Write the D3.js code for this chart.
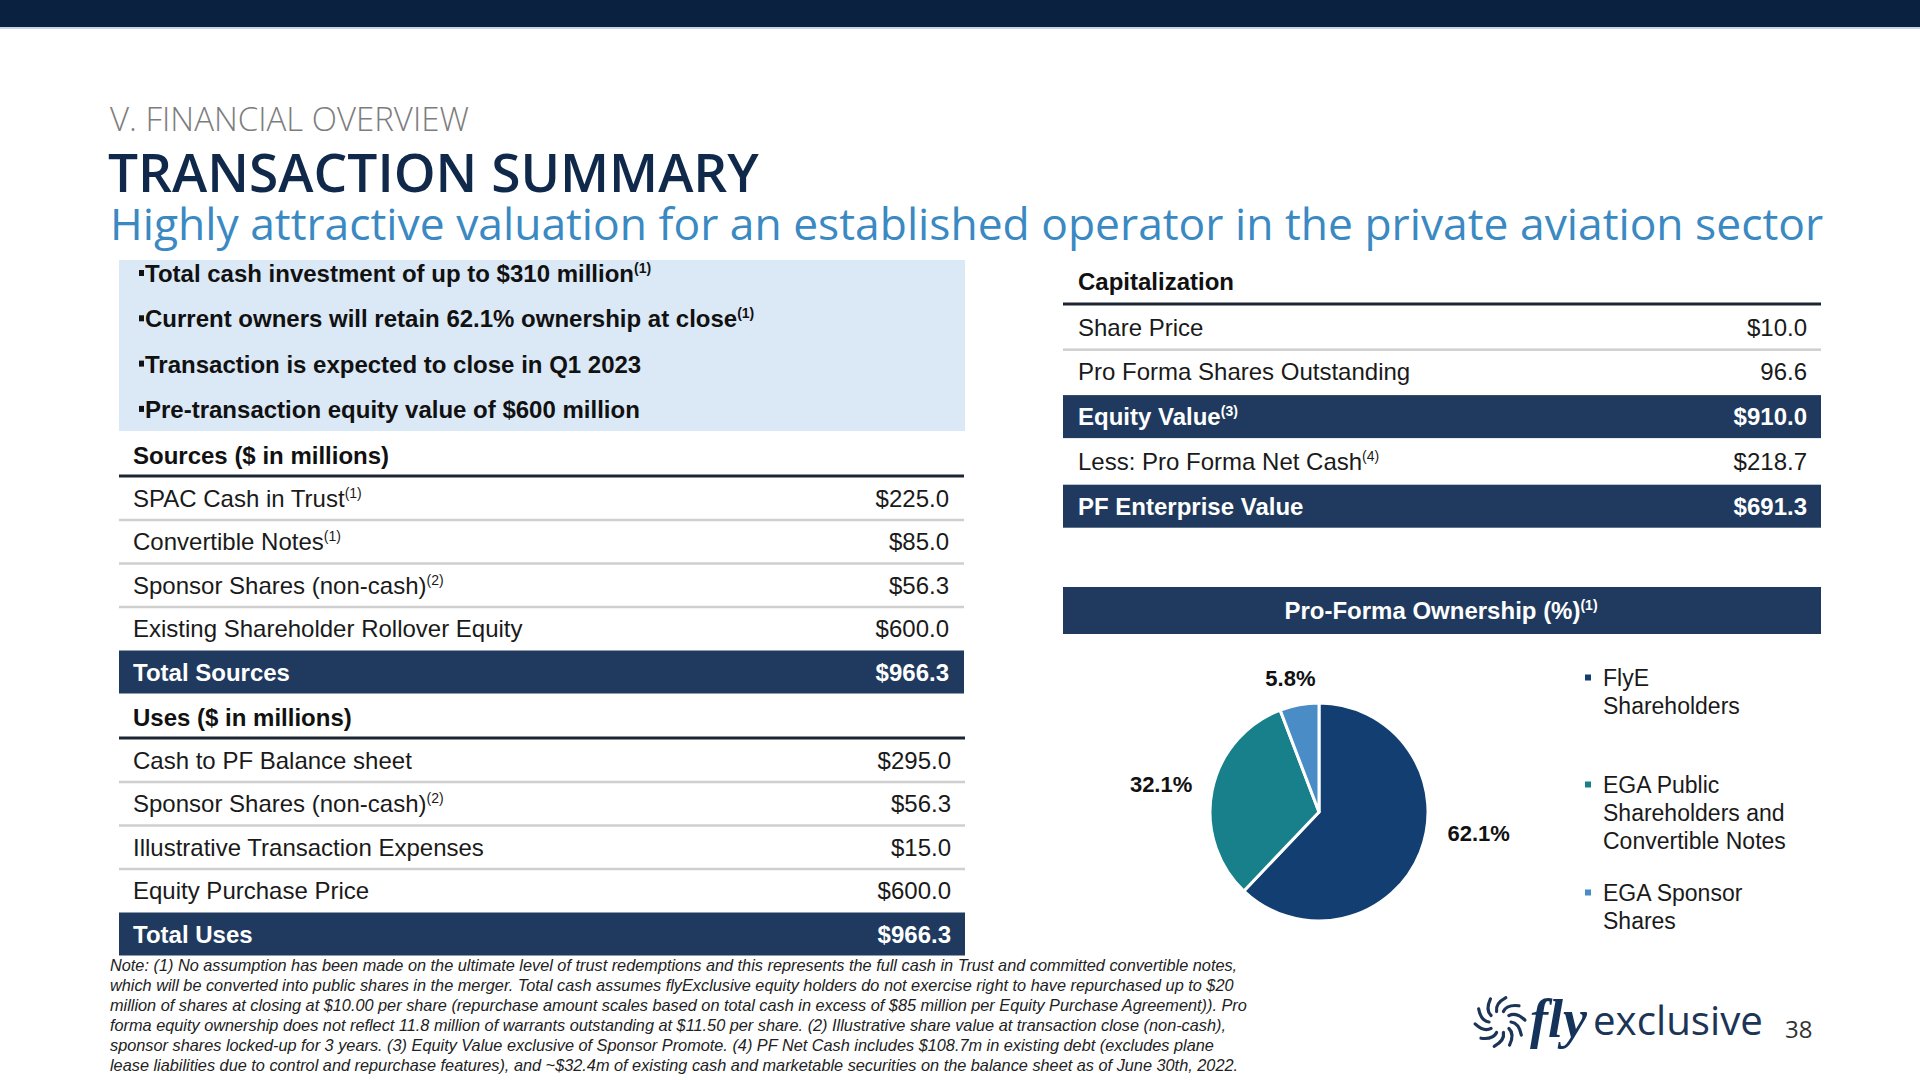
<!DOCTYPE html>
<html><head><meta charset="utf-8">
<script src="https://cdn.jsdelivr.net/npm/d3@7"></script>
<style>body{margin:0;background:#fff}svg{display:block}</style>
</head><body>
<svg id="c" width="1920" height="1080"></svg>
<script>
// ---------------- DATA ----------------
const sectionLabel = "V. FINANCIAL OVERVIEW";
const pageTitle = "TRANSACTION SUMMARY";
const subtitle = "Highly attractive valuation for an established operator in the private aviation sector";

const bullets = [
  "Total cash investment of up to $310 million",
  "Current owners will retain 62.1% ownership at close",
  "Transaction is expected to close in Q1 2023",
  "Pre-transaction equity value of $600 million"
];
const bulletNotes = ["(1)", "(1)", "", ""];

const sourcesTitle = "Sources ($ in millions)";
const sourcesLabels = ["SPAC Cash in Trust", "Convertible Notes", "Sponsor Shares (non-cash)", "Existing Shareholder Rollover Equity"];
const sourcesNotes = ["(1)", "(1)", "(2)", ""];
const sourcesValues = [225.0, 85.0, 56.3, 600.0];
const sourcesTotalLabel = "Total Sources";
const sourcesTotal = 966.3;

const usesTitle = "Uses ($ in millions)";
const usesLabels = ["Cash to PF Balance sheet", "Sponsor Shares (non-cash)", "Illustrative Transaction Expenses", "Equity Purchase Price"];
const usesNotes = ["", "(2)", "", ""];
const usesValues = [295.0, 56.3, 15.0, 600.0];
const usesTotalLabel = "Total Uses";
const usesTotal = 966.3;

const capTitle = "Capitalization";
const capLabels = ["Share Price", "Pro Forma Shares Outstanding", "Equity Value", "Less: Pro Forma Net Cash", "PF Enterprise Value"];
const capNotes = ["", "", "(3)", "(4)", ""];
const capValues = [10.0, 96.6, 910.0, 218.7, 691.3];
const capIsCurrency = [true, false, true, true, true];
const capHighlight = [false, false, true, false, true];

const ownershipTitle = "Pro-Forma Ownership (%)";
const ownershipTitleNote = "(1)";
const ownershipCategories = ["FlyE Shareholders", "EGA Public Shareholders and Convertible Notes", "EGA Sponsor Shares"];
const ownershipLegendLines = [["FlyE", "Shareholders"], ["EGA Public", "Shareholders and", "Convertible Notes"], ["EGA Sponsor", "Shares"]];
const ownershipValues = [62.1, 32.1, 5.8];

const footnoteLines = [
  "Note: (1) No assumption has been made on the ultimate level of trust redemptions and this represents the full cash in Trust and committed convertible notes,",
  "which will be converted into public shares in the merger. Total cash assumes flyExclusive equity holders do not exercise right to have repurchased up to $20",
  "million of shares at closing at $10.00 per share (repurchase amount scales based on total cash in excess of $85 million per Equity Purchase Agreement)). Pro",
  "forma equity ownership does not reflect 11.8 million of warrants outstanding at $11.50 per share. (2) Illustrative share value at transaction close (non-cash),",
  "sponsor shares locked-up for 3 years. (3) Equity Value exclusive of Sponsor Promote. (4) PF Net Cash includes $108.7m in existing debt (excludes plane",
  "lease liabilities due to control and repurchase features), and ~$32.4m of existing cash and marketable securities on the balance sheet as of June 30th, 2022."
];
const pageNumber = "38";

// ---------------- STYLE ----------------
const NAVY_BAR = "#1f3a5e";
const TOP_BAR = "#0a2240";
const BODY_FONT = "'Liberation Sans', Arial, sans-serif";
const TITLE_FONT = "'Open Sans', sans-serif";
const pieColors = ["#133e72", "#17808b", "#4a8cc6"];
const fmt = d3.format(".1f");
const money = v => "$" + fmt(v);

const svg = d3.select("#c");

function fit(sel, target) {
  const w = sel.node().getComputedTextLength();
  const fs = parseFloat(sel.attr("font-size"));
  sel.attr("font-size", fs * target / w);
}
function addSup(textSel, note, size) {
  if (!note) return;
  textSel.append("tspan").attr("font-size", size).attr("dy", -9).text(note);
}

// top bar
svg.append("rect").attr("x", 0).attr("y", 0).attr("width", 1920).attr("height", 27).attr("fill", TOP_BAR);
svg.append("rect").attr("x", 0).attr("y", 27).attr("width", 1920).attr("height", 2).attr("fill", "#c9d6e4");

// titles
const t1 = svg.append("text").attr("x", 110).attr("y", 131).attr("font-family", TITLE_FONT)
  .attr("font-weight", 300).attr("font-size", 28).attr("fill", "#7d7d7d").text(sectionLabel);
fit(t1, 359);
const t2 = svg.append("text").attr("x", 108).attr("y", 192).attr("font-family", TITLE_FONT)
  .attr("font-weight", 600).attr("font-size", 56).attr("fill", "#10294b").text(pageTitle);
fit(t2, 651);
const t3 = svg.append("text").attr("x", 110).attr("y", 240).attr("font-family", TITLE_FONT)
  .attr("font-weight", 500).attr("font-size", 40).attr("fill", "#3a89c3").text(subtitle);
fit(t3, 1714);

// bullets box
svg.append("rect").attr("x", 119).attr("y", 260).attr("width", 846).attr("height", 171).attr("fill", "#dbe8f6");
const yBul = d3.scaleLinear().domain([0, 1]).range([282, 327.3]);
bullets.forEach((b, i) => {
  svg.append("rect").attr("x", 139).attr("y", yBul(i) - 12).attr("width", 5).attr("height", 6).attr("fill", "#111");
  const t = svg.append("text").attr("x", 145).attr("y", yBul(i)).attr("font-family", BODY_FONT)
    .attr("font-weight", 700).attr("font-size", 24).attr("fill", "#111").text(b);
  addSup(t, bulletNotes[i], 14);
});

// generic table
function drawTable(cfg) {
  const g = svg.append("g");
  const y = d3.scaleLinear().domain([0, 1]).range([cfg.firstCenter, cfg.firstCenter + cfg.step]);
  if (cfg.title) {
    g.append("text").attr("x", cfg.textX).attr("y", cfg.titleBaseline).attr("font-family", BODY_FONT)
      .attr("font-weight", 700).attr("font-size", 24).attr("fill", "#111").text(cfg.title);
    g.append("rect").attr("x", cfg.x0).attr("y", cfg.ruleY - 1.5).attr("width", cfg.x1 - cfg.x0).attr("height", 3).attr("fill", "#1c2633");
  }
  cfg.rows.forEach((r, i) => {
    const cy = y(i);
    if (r.highlight) {
      g.append("rect").attr("x", cfg.x0).attr("y", cy - 21.5).attr("width", cfg.x1 - cfg.x0).attr("height", 43).attr("fill", NAVY_BAR);
    } else if (i < cfg.rows.length - 1 && !cfg.rows[i + 1].highlight) {
      g.append("rect").attr("x", cfg.x0).attr("y", cy + cfg.step / 2 - 1).attr("width", cfg.x1 - cfg.x0).attr("height", 2.5).attr("fill", "#cfcfcf");
    }
    const col = r.highlight ? "#ffffff" : "#1a1a1a";
    const w = r.highlight ? 700 : 400;
    const lt = g.append("text").attr("x", cfg.textX).attr("y", cy + 8.5).attr("font-family", BODY_FONT)
      .attr("font-weight", w).attr("font-size", 24).attr("fill", col).text(r.label);
    addSup(lt, r.note, 14);
    g.append("text").attr("x", cfg.valueX).attr("y", cy + 8.5).attr("text-anchor", "end").attr("font-family", BODY_FONT)
      .attr("font-weight", w).attr("font-size", 24).attr("fill", col).text(r.value);
  });
}

drawTable({
  title: sourcesTitle, titleBaseline: 464, ruleY: 476, x0: 119, x1: 964, textX: 133, valueX: 949,
  firstCenter: 498, step: 43.5,
  rows: sourcesLabels.map((l, i) => ({label: l, note: sourcesNotes[i], value: money(sourcesValues[i])}))
    .concat([{label: sourcesTotalLabel, note: "", value: money(sourcesTotal), highlight: true}])
});
drawTable({
  title: usesTitle, titleBaseline: 726, ruleY: 738, x0: 119, x1: 965, textX: 133, valueX: 951,
  firstCenter: 760, step: 43.5,
  rows: usesLabels.map((l, i) => ({label: l, note: usesNotes[i], value: money(usesValues[i])}))
    .concat([{label: usesTotalLabel, note: "", value: money(usesTotal), highlight: true}])
});
drawTable({
  title: capTitle, titleBaseline: 290, ruleY: 304, x0: 1063, x1: 1821, textX: 1078, valueX: 1807,
  firstCenter: 327, step: 44.8,
  rows: capLabels.map((l, i) => ({label: l, note: capNotes[i],
    value: capIsCurrency[i] ? money(capValues[i]) : fmt(capValues[i]), highlight: capHighlight[i]}))
});

// ownership title bar
svg.append("rect").attr("x", 1063).attr("y", 587).attr("width", 758).attr("height", 47).attr("fill", NAVY_BAR);
const ot = svg.append("text").attr("x", 1441).attr("y", 619).attr("text-anchor", "middle").attr("font-family", BODY_FONT)
  .attr("font-weight", 700).attr("font-size", 24).attr("fill", "#fff").text(ownershipTitle);
addSup(ot, ownershipTitleNote, 14);

// pie
const cx = 1319, cy = 812, R = 109;
const pie = d3.pie().sort(null).value(d => d)(ownershipValues);
const arc = d3.arc().innerRadius(0).outerRadius(R);
const pg = svg.append("g").attr("transform", `translate(${cx},${cy})`);
pg.selectAll("path").data(pie).join("path").attr("d", arc)
  .attr("fill", (d, i) => pieColors[i]).attr("stroke", "#fff").attr("stroke-width", 3).attr("stroke-linejoin", "round");
const labelArc = d3.arc().innerRadius(158).outerRadius(158);
const labelNudge = [[13, -38], [-3, 3], [0, 21]];
pg.selectAll("text.lbl").data(pie).join("text").attr("class", "lbl")
  .attr("x", (d, i) => labelArc.centroid(d)[0] + labelNudge[i][0])
  .attr("y", (d, i) => labelArc.centroid(d)[1] + labelNudge[i][1] + 8)
  .attr("text-anchor", "middle").attr("font-family", BODY_FONT).attr("font-weight", 700)
  .attr("font-size", 22).attr("fill", "#111").text(d => fmt(d.data) + "%");

// legend
const legendTop = [678, 785, 893];
ownershipLegendLines.forEach((lines, i) => {
  svg.append("rect").attr("x", 1585).attr("y", legendTop[i] - 3.5).attr("width", 6).attr("height", 6).attr("fill", pieColors[i]);
  lines.forEach((ln, j) => {
    svg.append("text").attr("x", 1603).attr("y", legendTop[i] + j * 28 + 8).attr("font-family", BODY_FONT)
      .attr("font-size", 23).attr("fill", "#1a1a1a").text(ln);
  });
});

// footnote
const fg = svg.append("g");
const fLines = fg.selectAll("text").data(footnoteLines).join("text")
  .attr("x", 0).attr("y", (d, i) => i * 20)
  .attr("font-family", BODY_FONT).attr("font-style", "italic").attr("font-size", 16).attr("fill", "#222").text(d => d);
const w0 = fLines.nodes()[0].getComputedTextLength();
fg.attr("transform", `translate(110,971) scale(${1128 / w0},1)`);

// logo
const lg = svg.append("g").attr("transform", "translate(1500,1022)");
d3.range(10).forEach(k => {
  const a = k * 36 * Math.PI / 180;
  const r1 = 11, r2 = 25;
  const p1 = [r1 * Math.cos(a), r1 * Math.sin(a)];
  const p2 = [r2 * Math.cos(a + 0.55), r2 * Math.sin(a + 0.55)];
  const pc = [19 * Math.cos(a + 0.05), 19 * Math.sin(a + 0.05)];
  lg.append("path").attr("d", `M${p1[0]},${p1[1]} Q${pc[0]},${pc[1]} ${p2[0]},${p2[1]}`)
    .attr("fill", "none").attr("stroke", "#1c3557").attr("stroke-width", 3.2).attr("stroke-linecap", "round");
});
svg.append("text").attr("x", 1530).attr("y", 1037).attr("font-family", "'Liberation Serif', serif")
  .attr("font-style", "italic").attr("font-weight", 700).attr("font-size", 54).attr("fill", "#14325a").text("fly");
const ex = svg.append("text").attr("x", 1593).attr("y", 1035).attr("font-family", TITLE_FONT)
  .attr("font-size", 41).attr("fill", "#1c3557").text("exclusive");
fit(ex, 170);
svg.append("text").attr("x", 1785).attr("y", 1038).attr("font-family", TITLE_FONT)
  .attr("font-size", 24).attr("fill", "#333").text(pageNumber);
</script>
</body></html>
